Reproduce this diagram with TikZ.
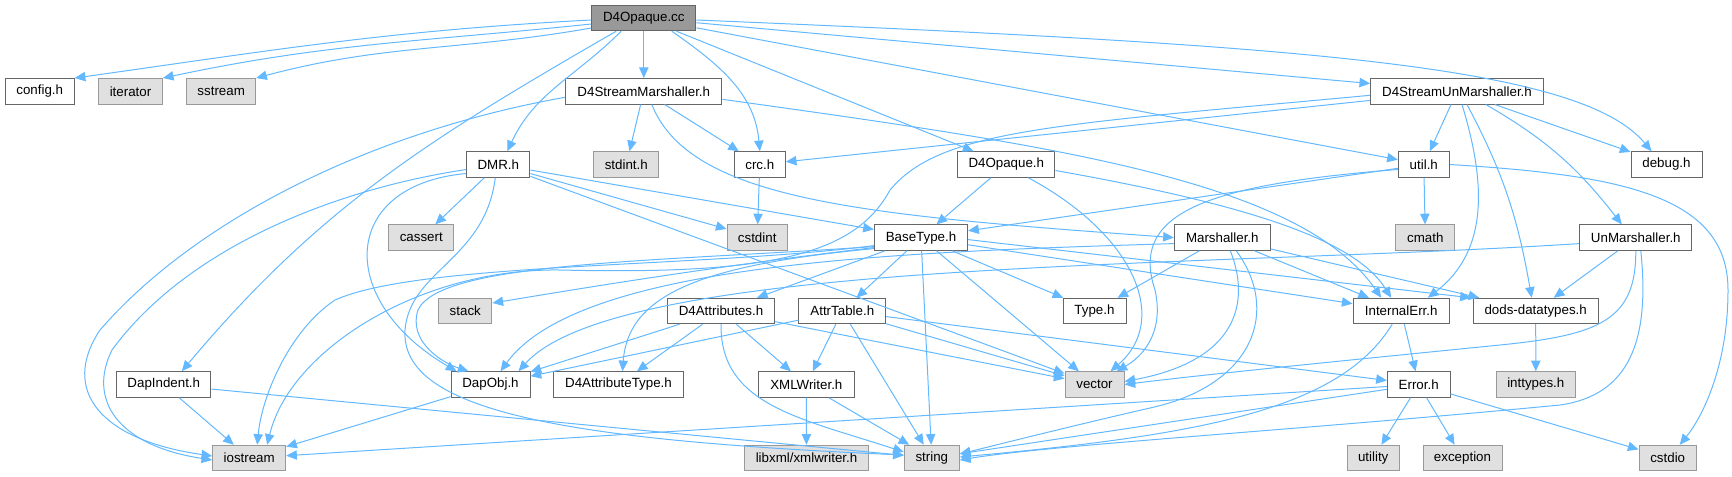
\documentclass[tikz,border=0pt]{standalone}
\usepackage{fontspec}
\setmainfont{Liberation Sans}
\usetikzlibrary{arrows.meta,calc}
\definecolor{link}{HTML}{63B8FF}
\definecolor{rim}{HTML}{666666}
\definecolor{grayrim}{HTML}{999999}
\definecolor{grayfill}{HTML}{E0E0E0}
\definecolor{rootfill}{HTML}{999999}

\begin{document}
\begin{tikzpicture}[x=0.75pt,y=-0.75pt,
  font=\fontsize{10}{12}\selectfont,
  dep/.style={-{Triangle[length=8pt,width=7pt]}, line width=0.75pt, draw=link},
  file/.style={draw=rim, line width=0.75pt, fill=white, minimum height=19.1pt,
               inner sep=0pt},
  sys/.style={file, draw=grayrim, fill=grayfill},
  root/.style={file, fill=rootfill},
  wd/.style={minimum width=#1*0.75pt}]

\path[use as bounding box] (0,0) rectangle (1732,476);

% ------------------------------------------------------------------ rank 0
\node[root, wd=104.3] (cc) at (643.8,18) {D4Opaque.cc};

% ------------------------------------------------------------------ rank 1
\node[file, wd=69]    (config)   at (39.7,91.3)  {config.h};
\node[sys,  wd=63.7]  (iterator) at (130.5,91.3) {iterator};
\node[sys,  wd=69]    (sstream)  at (221.2,91.3) {sstream};
\node[file, wd=156.3] (dsm)      at (643.8,91.3) {D4StreamMarshaller.h};
\node[file, wd=172.7] (dsum)     at (1457,91.3)  {D4StreamUnMarshaller.h};

% ------------------------------------------------------------------ rank 2
\node[file, wd=63.3] (dmr)     at (498.3,164.5)  {DMR.h};
\node[sys,  wd=65.3] (stdint)  at (626.3,164.5)  {stdint.h};
\node[file, wd=51]   (crc)     at (759.8,164.5)  {crc.h};
\node[file, wd=97.3] (opaqueh) at (1006.3,164.5) {D4Opaque.h};
\node[file, wd=51]   (util)    at (1423.8,164.5) {util.h};
\node[file, wd=71]   (debug)   at (1666.5,164.5) {debug.h};

% ------------------------------------------------------------------ rank 3
\node[sys,  wd=65.3]  (cassert)  at (421.3,237.6)  {cassert};
\node[sys,  wd=60.3]  (cstdint)  at (757.2,237.6)  {cstdint};
\node[file, wd=93.3]  (basetype) at (921,237.6)    {BaseType.h};
\node[file, wd=96]    (marsh)    at (1222.3,237.6) {Marshaller.h};
\node[sys,  wd=58.7]  (cmath)    at (1425.3,237.6) {cmath};
\node[file, wd=112.3] (unmarsh)  at (1635.8,237.6) {UnMarshaller.h};

% ------------------------------------------------------------------ rank 4
\node[sys,  wd=53.3]  (stack)     at (465.3,311)  {stack};
\node[file, wd=106.7] (attrs)     at (721,311)    {D4Attributes.h};
\node[file, wd=86.7]  (attrtable) at (842.3,311)  {AttrTable.h};
\node[file, wd=63]    (typeh)     at (1094.5,311) {Type.h};
\node[file, wd=96.3]  (interr)    at (1401.2,311) {InternalErr.h};
\node[file, wd=124.7] (dods)      at (1535.7,311) {dods-datatypes.h};

% ------------------------------------------------------------------ rank 5
\node[file, wd=94.3]  (dapindent) at (163.8,384.5)  {DapIndent.h};
\node[file, wd=79]    (dapobj)    at (490.5,384.5)  {DapObj.h};
\node[file, wd=129.7] (attrtype)  at (618.5,384.5)  {D4AttributeType.h};
\node[file, wd=96]    (xmlw)      at (806.3,384.5)  {XMLWriter.h};
\node[sys,  wd=59]    (vector)    at (1094.5,384.5) {vector};
\node[file, wd=62.7]  (error)     at (1418.7,384.5) {Error.h};
\node[sys,  wd=79]    (inttypes)  at (1535.8,384.5) {inttypes.h};

% ------------------------------------------------------------------ rank 6
\node[sys, wd=73]    (iostream)  at (249.2,458)  {iostream};
\node[sys, wd=124.3] (libxml)    at (806.5,458)  {libxml/xmlwriter.h};
\node[sys, wd=55]    (string)    at (931.8,458)  {string};
\node[sys, wd=52.3]  (utility)   at (1373.2,458) {utility};
\node[sys, wd=79]    (exception) at (1462.5,458) {exception};
\node[sys, wd=57.3]  (cstdio)    at (1667.7,458) {cstdio};

% ------------------------------------------------------------------ D4Opaque.cc
\draw[dep] ($(cc.west)+(0,2)$) to[out=183,in=8] (config.north east);
\draw[dep] ($(cc.west)+(0,6)$) to[out=186,in=12] (iterator.north east);
\draw[dep] ($(cc.west)+(0,10)$) to[out=190,in=15] (sstream.north east);
\draw[dep] ($(cc.south west)+(25,0)$) to[out=210,in=50] ($(dapindent.north)+(18,0)$);
\draw[dep] ($(cc.south west)+(30,0)$) to[out=225,in=65] ($(dmr.north)+(9,0)$);
\draw[dep] (cc) -- (dsm);
\draw[dep] ($(cc.south)+(28,0)$) to[out=-35,in=95] (crc.north);
\draw[dep] (cc) -- (opaqueh);
\draw[dep] (cc) -- (util);
\draw[dep] (cc) -- (dsum);
\draw[dep] ($(cc.east)+(0,2)$) .. controls (1300,45) and (1580,65) .. ($(debug.north)+(-15,0)$);

% ------------------------------------------------------------------ D4StreamMarshaller.h
\draw[dep] ($(dsm.west)+(0,6)$) .. controls (380,130) and (200,215) .. (100,330)
  .. controls (60,390) and (100,440) .. ($(iostream.west)+(0,-2)$);
\draw[dep] (dsm) -- (stdint);
\draw[dep] (dsm) -- (crc);
\draw[dep] ($(dsm.south)+(8,0)$) .. controls (690,200) and (860,215) .. (marsh.west);
\draw[dep] ($(dsm.east)+(0,8)$) .. controls (1050,145) and (1300,180) .. ($(interr.north)+(-20,0)$);
\draw[dep] (crc) -- (cstdint);

% ------------------------------------------------------------------ DMR.h
\draw[dep] (dmr) -- (cassert);
\draw[dep] (dmr) -- (cstdint);
\draw[dep] (dmr) -- (basetype);
\draw[dep] (dmr) -- (vector);
\draw[dep] ($(dmr.west)+(0,9)$) .. controls (340,185) and (335,300) .. ($(dapobj.north west)+(6,0)$);
\draw[dep] ($(dmr.west)+(0,5)$) .. controls (330,190) and (185,250) .. (112,350)
  .. controls (88,398) and (115,445) .. ($(iostream.west)+(0,2)$);
\draw[dep] ($(dmr.south)+(-3,0)$) .. controls (485,260) and (410,270) .. (405,330)
  .. controls (400,410) and (560,440) .. ($(string.west)+(0,-3)$);

% ------------------------------------------------------------------ D4Opaque.h, util.h
\draw[dep] (opaqueh) -- (basetype);
\draw[dep] ($(opaqueh.south)+(22,0)$) .. controls (1135,235) and (1170,320) .. ($(vector.north)+(16,0)$);
\draw[dep] ($(opaqueh.east)+(0,6)$) .. controls (1250,205) and (1355,240) .. ($(interr.north)+(-10,0)$);
\draw[dep] (util) -- (cmath);
\draw[dep] (util) -- (basetype);
\draw[dep] ($(util.west)+(0,5)$) .. controls (1200,185) and (1130,215) .. (1155,290)
  .. controls (1165,335) and (1140,358) .. ($(vector.north east)+(-8,0)$);
\draw[dep] (util.east) .. controls (1620,175) and (1728,195) .. (1728,290)
  .. controls (1728,370) and (1700,420) .. ($(cstdio.north)+(12,0)$);

% ------------------------------------------------------------------ D4StreamUnMarshaller.h
\draw[dep] (dsum) -- (crc);
\draw[dep] ($(dsum.west)+(0,4)$) .. controls (1050,125) and (940,130) .. (890,190)
  .. controls (855,255) and (770,275) .. (560,270)
  .. controls (420,268) and (290,350) .. ($(iostream.north)+(18,0)$);
\draw[dep] (dsum) -- (util);
\draw[dep] (dsum) -- (debug);
\draw[dep] ($(dsum.south)+(5,0)$) .. controls (1485,180) and (1490,250) .. ($(interr.north east)+(-22,0)$);
\draw[dep] ($(dsum.south)+(10,0)$) to[out=-62,in=100] ($(dods.north)+(-4,0)$);
\draw[dep] ($(dsum.south east)+(-58,0)$) to[out=-30,in=128] ($(unmarsh.north)+(-14,0)$);

% ------------------------------------------------------------------ BaseType.h
\draw[dep] ($(basetype.west)+(0,8)$) .. controls (700,268) and (420,262) .. (335,300)
  .. controls (290,330) and (262,395) .. ($(iostream.north)+(8,0)$);
\draw[dep] ($(basetype.west)+(0,10)$) .. controls (700,268) and (560,292) .. ($(stack.east)+(0,-8)$);
\draw[dep] ($(basetype.west)+(0,9)$) .. controls (650,262) and (440,262) .. (418,310)
  .. controls (408,340) and (440,362) .. ($(dapobj.north west)+(18,0)$);
\draw[dep] ($(basetype.west)+(0,11)$) .. controls (700,265) and (628,295) .. ($(attrtype.north)+(4,0)$);
\draw[dep] (basetype) -- (attrs);
\draw[dep] (basetype) -- (attrtable);
\draw[dep] (basetype) -- (typeh);
\draw[dep] (basetype) -- (string);
\draw[dep] (basetype) -- (vector);
\draw[dep] (basetype) -- (interr);
\draw[dep] ($(basetype.east)+(0,2)$) -- ($(dods.north west)+(-2,0)$);

% ------------------------------------------------------------------ Marshaller.h, UnMarshaller.h
\draw[dep] (marsh) -- (typeh);
\draw[dep] ($(marsh.south)+(8,0)$) .. controls (1250,300) and (1240,360) .. ($(vector.east)+(0,-3)$);
\draw[dep] ($(marsh.south)+(14,0)$) .. controls (1280,310) and (1255,385) .. (1150,408)
  .. controls (1080,424) and (1000,444) .. ($(string.east)+(0,-4)$);
\draw[dep] (marsh) -- (interr);
\draw[dep] (marsh) -- (dods);
\draw[dep] ($(marsh.west)+(0,6)$) .. controls (900,252) and (580,262) .. ($(dapobj.north)+(10,0)$);
\draw[dep] ($(unmarsh.west)+(0,6)$) .. controls (1200,268) and (620,258) .. ($(dapobj.north east)+(-12,0)$);
\draw[dep] (unmarsh) -- (dods);
\draw[dep] (unmarsh.south) .. controls (1636,320) and (1600,335) .. (1500,345)
  .. controls (1350,360) and (1200,375) .. (vector.east);
\draw[dep] ($(unmarsh.south)+(5,0)$) .. controls (1650,340) and (1630,395) .. (1560,405)
  .. controls (1300,430) and (1050,445) .. ($(string.east)+(0,2)$);

% ------------------------------------------------------------------ attributes
\draw[dep] (attrs) -- (dapobj);
\draw[dep] (attrs) -- (attrtype);
\draw[dep] (attrs) -- (xmlw);
\draw[dep] (attrs.south) .. controls (720,405) and (800,418) .. ($(string.west)+(0,-6)$);
\draw[dep] (attrs) -- (vector);
\draw[dep] (attrtable) -- (dapobj);
\draw[dep] (attrtable) -- (xmlw);
\draw[dep] (attrtable) -- (string);
\draw[dep] (attrtable) -- (vector);
\draw[dep] (attrtable) -- (error);
\draw[dep] (xmlw) -- (libxml);
\draw[dep] (xmlw) -- (string);

% ------------------------------------------------------------------ bottom ranks
\draw[dep] (dapobj) -- (iostream);
\draw[dep] (dapindent) -- (iostream);
\draw[dep] (dapindent) -- (string);
\draw[dep] (interr) -- (error);
\draw[dep] ($(interr.south)+(-9,0)$) .. controls (1340,410) and (1200,435) .. ($(string.east)+(0,-1)$);
\draw[dep] (error) -- (iostream);
\draw[dep] (error) -- (string);
\draw[dep] (error) -- (utility);
\draw[dep] (error) -- (exception);
\draw[dep] (error) -- (cstdio);
\draw[dep] (dods) -- (inttypes);
\end{tikzpicture}
\end{document}
